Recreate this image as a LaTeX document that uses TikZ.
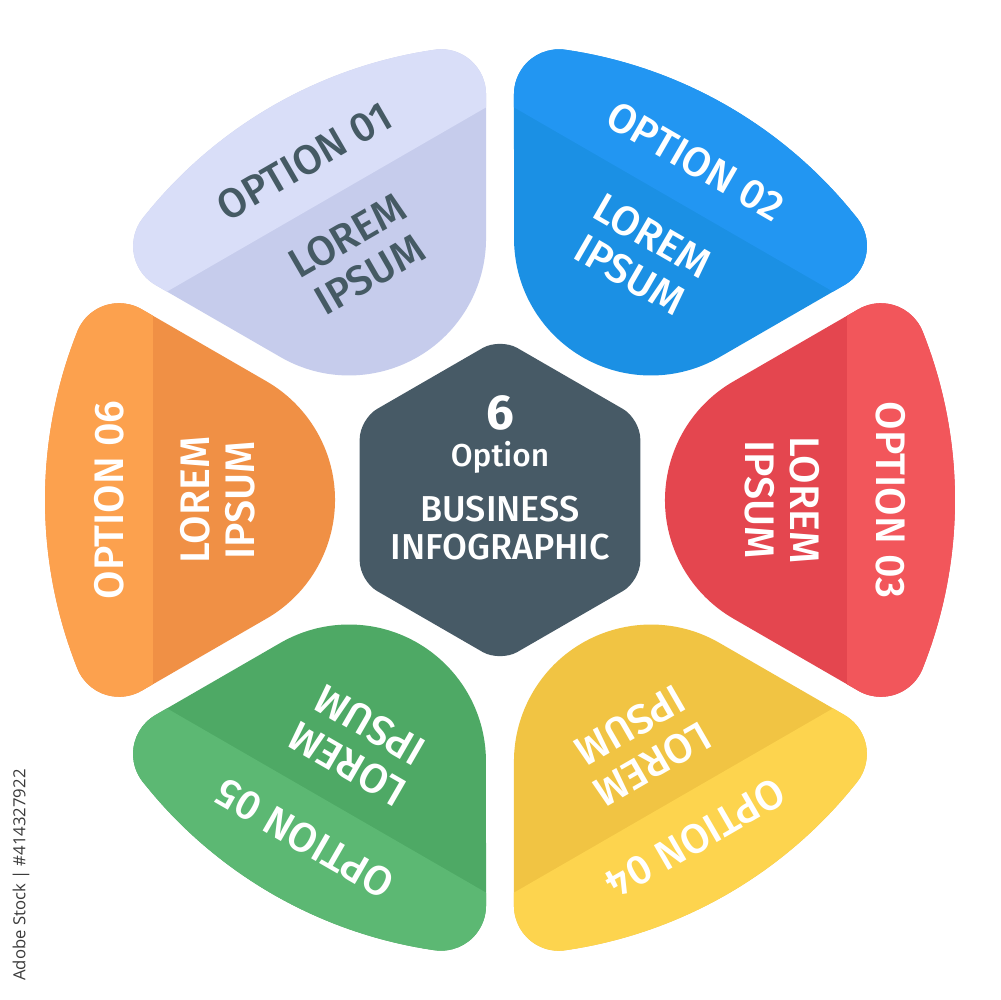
\documentclass[tikz,border=0pt]{standalone}
\usepackage{fontspec}
\setmainfont{Fira Sans}
\IfFontExistsTF{Fira Sans Medium}{\newfontfamily\medfont{Fira Sans Medium}}{\newfontfamily\medfont{Fira Sans}[UprightFont=*-Bold]}
\newfontfamily\wmfont{Open Sans}
\definecolor{lavO}{HTML}{D9DEF8}
\definecolor{lavI}{HTML}{C6CCEC}
\definecolor{bluO}{HTML}{2296F2}
\definecolor{bluI}{HTML}{1B90E4}
\definecolor{redO}{HTML}{F2565B}
\definecolor{redI}{HTML}{E4464F}
\definecolor{yelO}{HTML}{FDD44E}
\definecolor{yelI}{HTML}{F1C443}
\definecolor{grnO}{HTML}{5CB873}
\definecolor{grnI}{HTML}{4EA965}
\definecolor{orgO}{HTML}{FCA14E}
\definecolor{orgI}{HTML}{F09045}
\definecolor{hexc}{HTML}{475A66}
\definecolor{slate}{HTML}{455A64}
\definecolor{wm}{HTML}{3A3A3A}
\def\petalpath{(-21.73:455) arc[start angle=-21.73, end angle=21.73, radius=455]
  arc[start angle=21.73, end angle=120, radius=45]
  -- (233.5,118.6)
  arc[start angle=120, end angle=240, radius=137]
  -- (358.4,-190.8)
  arc[start angle=240, end angle=338.27, radius=45] -- cycle}
\newcommand\petal[5]{%
  \begin{scope}[rotate=#2]
    \fill[#4] \petalpath;
    \begin{scope}
      \clip \petalpath;
      \fill[#3] (347,-300) rectangle (500,300);
    \end{scope}
  \end{scope}
  \node[lbl, text=#5, rotate=#2-90] (opt#1) at (#2:391) {OPTION 0#1};
  \node[lbl, text=#5, rotate=#2-90] (lor#1) at (#2:305) {LOREM};
  \node[lbl, text=#5, rotate=#2-90] (ips#1) at (#2:260) {IPSUM};
}
\begin{document}
\begin{tikzpicture}[x=0.02cm, y=0.02cm,
  lbl/.style={font=\medfont\fontsize{23.5}{26}\selectfont, inner sep=0pt, anchor=center},
  ctr/.style={text=white, inner sep=0pt, anchor=base}]
\fill[white] (-500,-500) rectangle (500,500);
\useasboundingbox (-500,-500) rectangle (500,500);
\petal{1}{120}{lavO}{lavI}{slate}
\petal{2}{60}{bluO}{bluI}{white}
\petal{3}{0}{redO}{redI}{white}
\petal{4}{-60}{yelO}{yelI}{white}
\petal{5}{-120}{grnO}{grnI}{white}
\petal{6}{180}{orgO}{orgI}{white}
\fill[hexc, rounded corners=0.4cm] (90:162) -- (150:162) -- (210:162) -- (270:162) -- (330:162) -- (30:162) -- cycle;
\node[ctr, font=\bfseries\fontsize{28}{30}\selectfont] (six) at (0,70) {6};
\node[ctr, font=\medfont\fontsize{18}{20}\selectfont] (option) at (0,33) {Option};
\node[ctr, font=\medfont\fontsize{20.5}{24}\selectfont] (business) at (0,-22) {BUSINESS};
\node[ctr, font=\medfont\fontsize{20.5}{24}\selectfont] (infog) at (0,-60) {INFOGRAPHIC};
\node[rotate=90, text=wm, inner sep=0pt, font=\wmfont\fontsize{9.5}{11}\selectfont] (stock) at (-479,-375) {Adobe Stock | \#414327922};
\end{tikzpicture}
\end{document}
